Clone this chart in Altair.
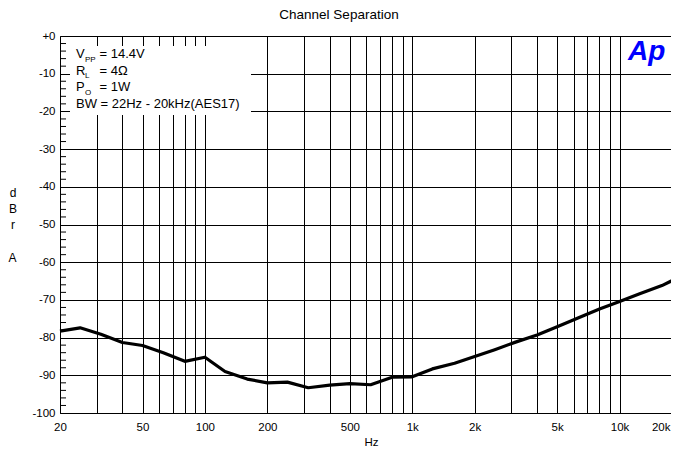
import altair as alt
import pandas as pd

# ---- data ----
freq = [20, 25, 31.5, 40, 50, 63, 80, 100, 125, 160, 200, 250, 315, 400, 500, 630,
        800, 1000, 1250, 1600, 2000, 2500, 3150, 4000, 5000, 6300, 8000, 10000,
        12500, 16000, 20000]
dbr = [-78.3, -77.4, -79.1, -81.3, -82.1, -84.0, -86.3, -85.2, -89.0, -91.0, -92.0,
       -91.8, -93.3, -92.6, -92.2, -92.5, -90.5, -90.4, -88.3, -86.8, -85.0, -83.2,
       -81.2, -79.3, -77.1, -74.8, -72.4, -70.4, -68.4, -66.2, -63.6]

x_grid = [20, 30, 40, 50, 60, 70, 80, 90, 100, 200, 300, 400, 500, 600, 700, 800, 900,
          1000, 2000, 3000, 4000, 5000, 6000, 7000, 8000, 9000, 10000, 20000]
x_label_values = [20, 50, 100, 200, 500, 1000, 2000, 5000, 10000, 20000]
x_label_text = ["20", "50", "100", "200", "500", "1k", "2k", "5k", "10k", "20k"]
y_major = [-100, -90, -80, -70, -60, -50, -40, -30, -20, -10, 0]
y_minor = [v for v in range(-98, 0, 2) if v % 10 != 0]

title_text = "Channel Separation"
y_title_top = ["d", "B", "r"]
y_title_last = "A"
x_title = "Hz"
legend_main = ["V", "R", "P"]
legend_sub = ["PP", "L", "O"]
legend_value = ["= 14.4V", "= 4\u03a9", "= 1W"]
legend_bw = "BW = 22Hz - 20kHz(AES17)"
logo = "Ap"

FONT = "Liberation Sans"

df = pd.DataFrame({"freq": freq, "db": dbr})
minor_df = pd.DataFrame({"db": y_minor})
one = pd.DataFrame({"k": [0]})

label_expr = "''"
for v, t in reversed(list(zip(x_label_values, x_label_text))):
    label_expr = f"datum.value == {v} ? '{t}' : ({label_expr})"

# full log range is 622 px wide; the visible view stops earlier (page edge)
xscale = alt.Scale(type="log", domain=[20, 20000], nice=False, range=[0, 622])
yscale = alt.Scale(domain=[-100, 0], nice=False)

LH = 16.4
x_axis = alt.Axis(
    values=x_grid, labelExpr=label_expr, grid=True, gridColor="black", gridOpacity=1,
    gridWidth=1, ticks=False, tickSize=0, domainColor="black", domainWidth=1,
    labelFont=FONT, labelFontSize=11.5, labelColor="black", labelPadding=8,
    labelFlush=False, labelOverlap=False, labelBound=False,
    labelAlign={"condition": {"test": "datum.value >= 20000", "value": "right"}, "value": "center"},
    labelOffset={"condition": {"test": "datum.value >= 20000", "value": -12}, "value": 0},
    title=x_title, titleFont=FONT, titleFontSize=11.5, titleFontWeight="normal",
    titleColor="black", titlePadding=3.5,
)
y_axis = alt.Axis(
    values=y_major, labelExpr="datum.value == 0 ? '+0' : '-' + abs(datum.value)",
    grid=True, gridColor="black", gridOpacity=1, gridWidth=1, ticks=False, tickSize=0,
    domainColor="black", domainWidth=1, labelFont=FONT, labelFontSize=11.5,
    labelColor="black", labelPadding=5, labelFlush=False, labelOverlap=False,
    title=y_title_top, titleAngle=0, titleAlign="center", titleBaseline="alphabetic",
    titleX=-47.5, titleY=160, titleLineHeight=LH, titleFont=FONT, titleFontSize=12,
    titleFontWeight="normal", titleColor="black",
)

line = alt.Chart(df).mark_line(color="black", strokeWidth=3.2, strokeJoin="round").encode(
    x=alt.X("freq:Q", scale=xscale, axis=x_axis),
    y=alt.Y("db:Q", scale=yscale, axis=y_axis),
)

box = alt.Chart(one).mark_rect(color="white").encode(
    x=alt.value(10), x2=alt.value(191), y=alt.value(10), y2=alt.value(79)
)

minor = alt.Chart(minor_df).mark_rule(color="black", strokeWidth=1).encode(
    y=alt.Y("db:Q", scale=yscale, axis=y_axis), x=alt.value(0), x2=alt.value(6)
)

# last letter of the stacked y title, after a blank line
y_title_a = alt.Chart(one).mark_text(
    font=FONT, fontSize=12, align="center", baseline="alphabetic", color="black"
).encode(x=alt.value(-47.5), y=alt.value(160 + 4 * LH), text=alt.value(y_title_last))

legend_layers = []
rows_y = [18, 34.5, 51]
for i in range(3):
    legend_layers.append(alt.Chart(one).mark_text(
        font=FONT, fontSize=13, align="left", baseline="middle", color="black"
    ).encode(x=alt.value(16), y=alt.value(rows_y[i]), text=alt.value(legend_main[i])))
    legend_layers.append(alt.Chart(one).mark_text(
        font=FONT, fontSize=8, align="left", baseline="middle", color="black"
    ).encode(x=alt.value(25), y=alt.value(rows_y[i] + 5.5), text=alt.value(legend_sub[i])))
    legend_layers.append(alt.Chart(one).mark_text(
        font=FONT, fontSize=13, align="left", baseline="middle", color="black"
    ).encode(x=alt.value(39.5), y=alt.value(rows_y[i]), text=alt.value(legend_value[i])))
legend_layers.append(alt.Chart(one).mark_text(
    font=FONT, fontSize=13, align="left", baseline="middle", color="black"
).encode(x=alt.value(16), y=alt.value(67.5), text=alt.value(legend_bw)))

logo_text = alt.Chart(one).mark_text(
    font=FONT, fontSize=28, fontWeight="bold", fontStyle="italic", align="left",
    baseline="alphabetic", color="#0000ff"
).encode(x=alt.value(568), y=alt.value(24), text=alt.value(logo))

title_mark = alt.Chart(one).mark_text(
    font=FONT, fontSize=13.5, align="center", baseline="alphabetic", color="black"
).encode(x=alt.value(279), y=alt.value(-16.8), text=alt.value(title_text))

chart = alt.layer(line, box, minor, y_title_a, *legend_layers, logo_text, title_mark).properties(
    width=611, height=377,
    autosize=alt.AutoSizeParams(type="none"),
    padding={"left": 52, "top": 28, "right": 0, "bottom": 35},
).configure_view(stroke=None).configure(background="white")

chart.save("out.html", embed_options={"renderer": "svg", "actions": False})
